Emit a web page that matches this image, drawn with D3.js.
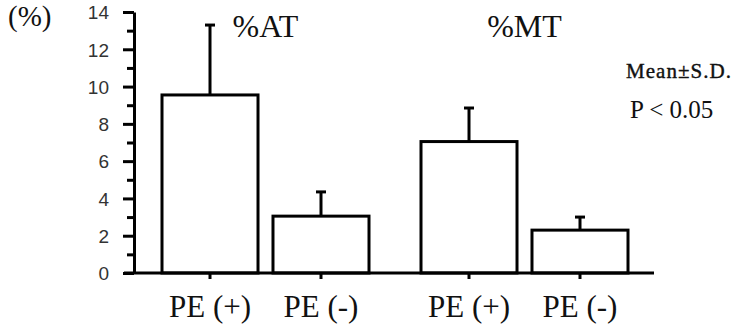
<!DOCTYPE html>
<html>
<head>
<meta charset="utf-8">
<script src="https://cdn.jsdelivr.net/npm/d3@7"></script>
<style>
  body { margin: 0; background: #fff; }
  svg { display: block; }
</style>
</head>
<body>
<div id="container"><svg></svg></div>
<script>
let width = 739;
let height = 328;

// data
let groups = ['%AT', '%MT'];
let conditions = ['PE (+)', 'PE (-)'];
let means = [[9.55, 3.05], [7.05, 2.3]];
let sds = [[3.75, 1.3], [1.8, 0.7]];
let y_ticks = [0, 2, 4, 6, 8, 10, 12, 14];
let y_minor = [1, 3, 5, 7, 9, 11, 13];

let serif = "'Liberation Serif', 'Times New Roman', serif";
let sans = "'Liberation Sans', Arial, sans-serif";

let svg = d3.select('#container').select('svg')
    .attr('width', width)
    .attr('height', height);

let y = d3.scaleLinear()
    .domain([0, 14])
    .range([273, 12]);

let x0 = d3.scaleBand()
    .domain(groups)
    .range([136, 654]);

let x1 = d3.scaleBand()
    .domain(conditions)
    .range([26, 233])
    .paddingInner(0.135);

let axis_x = 134;

let data = [];
groups.forEach((g, i) => {
    conditions.forEach((c, j) => {
        data.push({group: g, cond: c, mean: means[i][j], sd: sds[i][j]});
    });
});

let cx = d => x0(d.group) + x1(d.cond) + x1.bandwidth() / 2;

// bars
svg.append('g')
    .selectAll('rect')
    .data(data)
    .enter().append('rect')
    .attr('x', d => x0(d.group) + x1(d.cond))
    .attr('y', d => y(d.mean))
    .attr('width', x1.bandwidth())
    .attr('height', d => y(0) - y(d.mean))
    .attr('fill', '#fff')
    .attr('stroke', '#000')
    .attr('stroke-width', 3);

// error bars (upper only)
let err = svg.append('g')
    .selectAll('g')
    .data(data)
    .enter().append('g');
err.append('line')
    .attr('x1', cx).attr('x2', cx)
    .attr('y1', d => y(d.mean))
    .attr('y2', d => y(d.mean + d.sd))
    .attr('stroke', '#000')
    .attr('stroke-width', 3);
err.append('line')
    .attr('x1', d => cx(d) - 5).attr('x2', d => cx(d) + 5)
    .attr('y1', d => y(d.mean + d.sd))
    .attr('y2', d => y(d.mean + d.sd))
    .attr('stroke', '#000')
    .attr('stroke-width', 3);

// x baseline
svg.append('line')
    .attr('x1', axis_x - 10)
    .attr('x2', x0.range()[1])
    .attr('y1', y(0)).attr('y2', y(0))
    .attr('stroke', '#000')
    .attr('stroke-width', 3);

// x ticks under the bars
svg.append('g')
    .selectAll('line')
    .data(data)
    .enter().append('line')
    .attr('x1', cx).attr('x2', cx)
    .attr('y1', y(0)).attr('y2', y(0) + 6)
    .attr('stroke', '#000')
    .attr('stroke-width', 3);

// x labels
svg.append('g')
    .selectAll('text')
    .data(data)
    .enter().append('text')
    .attr('x', cx)
    .attr('y', 317)
    .attr('text-anchor', 'middle')
    .attr('font-family', serif)
    .attr('font-size', 31)
    .attr('fill', '#111')
    .text(d => d.cond);

// y axis, minor ticks
svg.append('g')
    .attr('transform', `translate(${axis_x}, 0)`)
    .call(d3.axisLeft(y).tickValues(y_minor).tickSize(7).tickSizeOuter(0).tickFormat(''))
    .call(g => g.select('.domain').remove())
    .selectAll('line')
    .attr('stroke-width', 3);

// y axis, major ticks
svg.append('g')
    .attr('transform', `translate(${axis_x}, 0)`)
    .call(d3.axisLeft(y).tickValues(y_ticks).tickSize(11).tickSizeOuter(0).tickPadding(14))
    .attr('font-family', sans)
    .attr('font-size', 19)
    .call(g => g.select('.domain').attr('stroke-width', 3))
    .call(g => g.selectAll('line').attr('stroke-width', 3))
    .call(g => g.selectAll('text').attr('fill', '#333').attr('dy', '0.36em'));

// unit
svg.append('text')
    .attr('x', 8)
    .attr('y', 26)
    .attr('font-family', serif)
    .attr('font-size', 29)
    .attr('fill', '#111')
    .text('(%)');

// group titles
svg.append('g')
    .selectAll('text')
    .data(groups)
    .enter().append('text')
    .attr('x', d => x0(d) + x0.bandwidth() / 2)
    .attr('y', 37)
    .attr('text-anchor', 'middle')
    .attr('font-family', serif)
    .attr('font-size', 32)
    .attr('fill', '#111')
    .text(d => d);

// notes
svg.append('text')
    .attr('x', 626)
    .attr('y', 78)
    .attr('font-family', serif)
    .attr('font-size', 21)
    .attr('fill', '#111')
    .attr('stroke', '#111')
    .attr('stroke-width', 0.4)
    .attr('textLength', 105)
    .text('Mean±S.D.');

svg.append('text')
    .attr('x', 630)
    .attr('y', 118)
    .attr('font-family', serif)
    .attr('font-size', 25)
    .attr('fill', '#111')
    .text('P < 0.05');
</script>
</body>
</html>
